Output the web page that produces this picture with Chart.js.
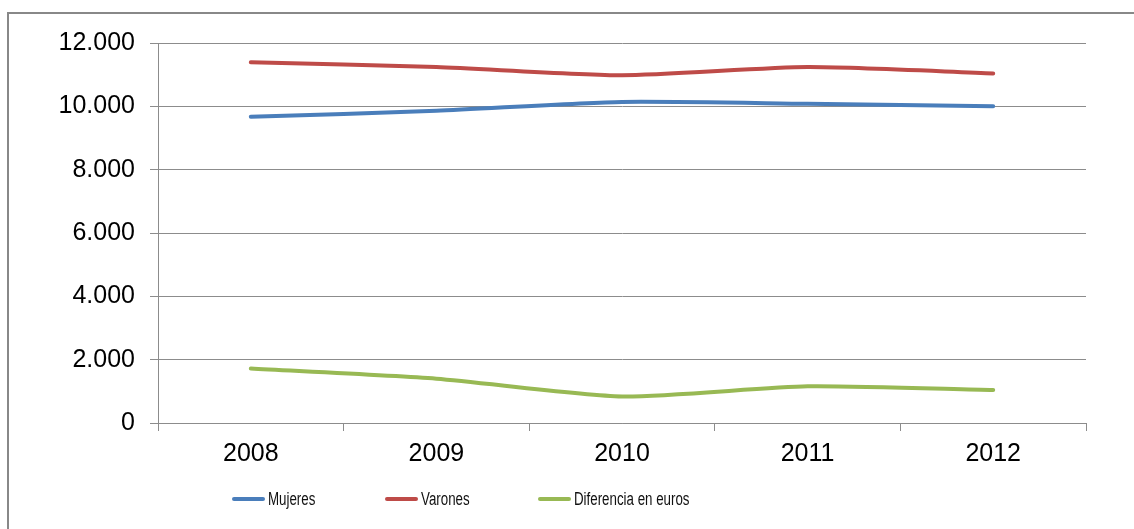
<!DOCTYPE html>
<html>
<head>
<meta charset="utf-8">
<script src="https://cdn.jsdelivr.net/npm/chart.js@4"></script>
<style>
    body { margin: 0; background: #fff; overflow: hidden; }
    #frame {
        position: absolute; left: 7px; top: 12px;
        width: 1200px; height: 600px;
        border: 2px solid #888;
    }
    #myChart { position: absolute; left: 0; top: 0; }
    .leg { position: absolute; top: 487px; height: 24px; display: flex; align-items: center;
           font-family: 'Liberation Sans', sans-serif;
           font-size: 18px; color: #111; white-space: nowrap; }
    .leg span.sw { display: inline-block; width: 33px; height: 4px; border-radius: 2px; margin-right: 3px; }
    .leg span.tx { display: inline-block; transform: scaleX(0.74); transform-origin: left center; }
</style>
</head>
<body>
<div id="frame"></div>
<canvas id="myChart" width="1134" height="529"></canvas>
<div id="legend"></div>
<script>

    const years = ['2008', '2009', '2010', '2011', '2012'];
    const mujeres = [9670, 9860, 10140, 10080, 10000];
    const varones = [11390, 11240, 10980, 11240, 11040];
    const diferencia = [1720, 1400, 840, 1160, 1040];
    const seriesNames = ['Mujeres', 'Varones', 'Diferencia en euros'];
    const seriesColors = ['#4a7ebb', '#be4b48', '#98b954'];

    const gridColor = '#8c8c8c';

    function fmt(v) {
        return String(v).replace(/\B(?=(\d{3})+(?!\d))/g, '.');
    }

    const config = {
        type: 'line',
        data: {
            labels: years,
            datasets: [mujeres, varones, diferencia].map((d, i) => ({
                label: seriesNames[i],
                data: d,
                borderColor: seriesColors[i],
                backgroundColor: seriesColors[i],
                borderWidth: 4,
                borderCapStyle: 'round',
                pointRadius: 0,
                tension: 0.22
            }))
        },
        options: {
            responsive: false,
            animation: false,
            layout: {
                padding: { left: 0, top: 43, right: 48, bottom: 46 }
            },
            scales: {
                x: {
                    offset: true,
                    grid: {
                        offset: true,
                        drawOnChartArea: false,
                        tickLength: 8,
                        color: gridColor
                    },
                    border: { color: gridColor },
                    ticks: {
                        padding: 8,
                        color: '#000',
                        font: { family: 'Liberation Sans', size: 25 }
                    },
                    afterFit: (s) => { s.height = 60; }
                },
                y: {
                    min: 0,
                    max: 12000,
                    grid: {
                        tickLength: 8,
                        color: gridColor
                    },
                    border: { color: gridColor },
                    ticks: {
                        stepSize: 2000,
                        padding: 15,
                        color: '#000',
                        font: { family: 'Liberation Sans', size: 25 },
                        callback: (v) => fmt(v)
                    },
                    afterFit: (s) => { s.width = 158; }
                }
            },
            plugins: {
                legend: { display: false },
                tooltip: { enabled: false }
            }
        }
    };

    const ctx = document.getElementById('myChart');
    new Chart(ctx, config);

    // legend, fixed slots like the original
    const legendX = [232, 385, 538];
    const legend = document.getElementById('legend');
    seriesNames.forEach((name, i) => {
        const el = document.createElement('div');
        el.className = 'leg';
        el.style.left = legendX[i] + 'px';
        el.innerHTML = '<span class="sw" style="background:' + seriesColors[i] + '"></span><span class="tx">' + name + '</span>';
        legend.appendChild(el);
    });
</script>
</body>
</html>
